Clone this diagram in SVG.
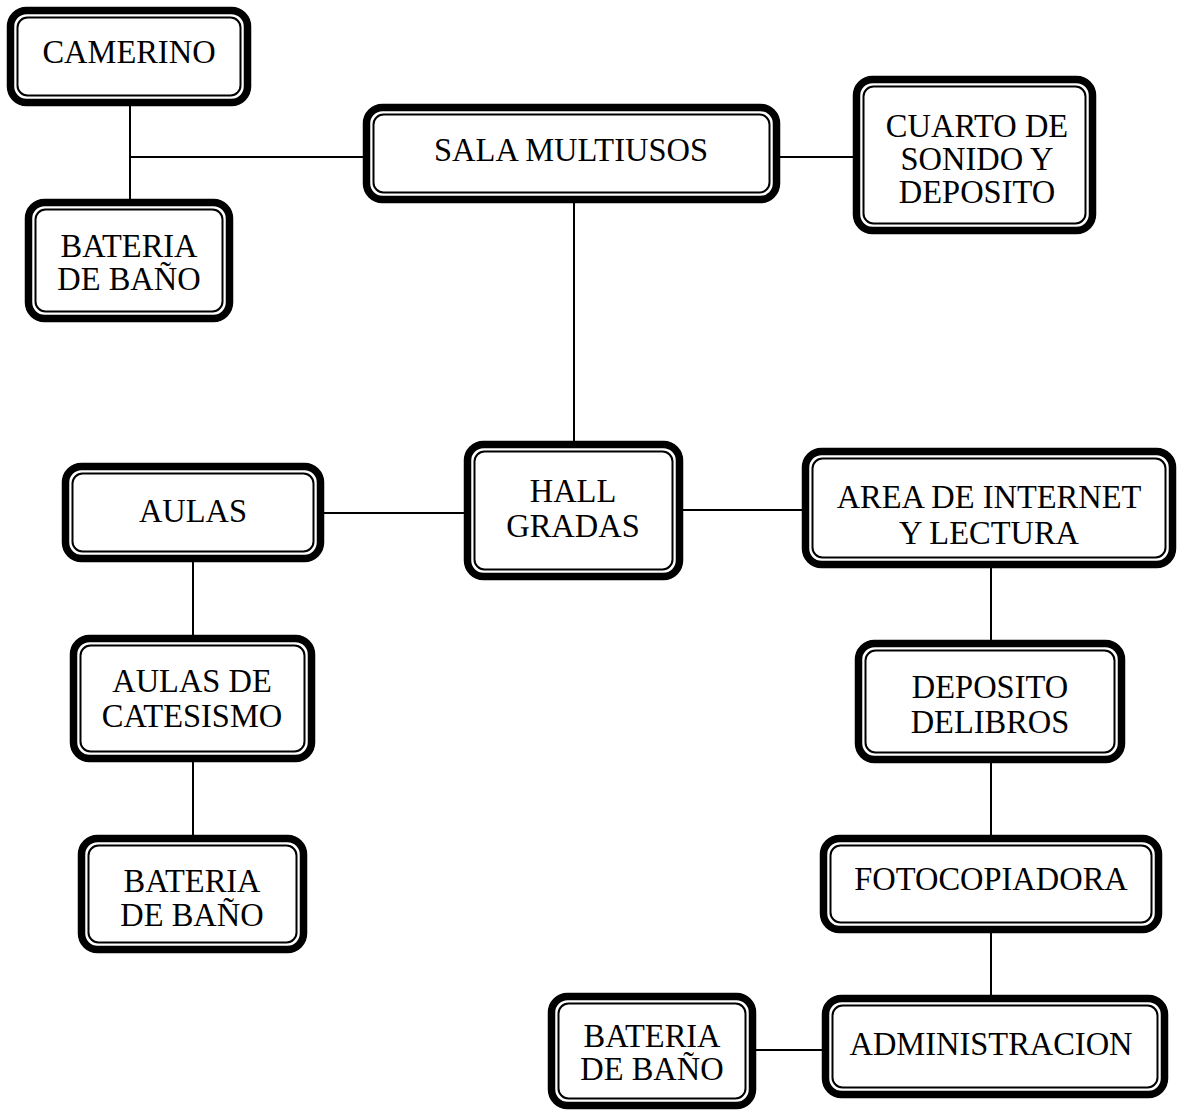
<svg xmlns="http://www.w3.org/2000/svg" width="1178" height="1112" viewBox="0 0 1178 1112">
<style>
.o{fill:#fff;stroke:#000;stroke-width:7.5}
.i{fill:none;stroke:#000;stroke-width:2}
.t{font-family:"Liberation Serif","Times New Roman",serif;font-size:34px;fill:#000;text-anchor:middle}
.c{stroke:#000;stroke-width:2;fill:none}
</style>
<rect width="1178" height="1112" fill="#fff"/>
<g id="connectors">
<line class="c" x1="130" y1="106" x2="130" y2="199"/>
<line class="c" x1="130" y1="157" x2="363" y2="157"/>
<line class="c" x1="780" y1="157" x2="853" y2="157"/>
<line class="c" x1="574" y1="203" x2="574" y2="441"/>
<line class="c" x1="324" y1="513" x2="464" y2="513"/>
<line class="c" x1="683" y1="510" x2="802" y2="510"/>
<line class="c" x1="193" y1="562" x2="193" y2="635"/>
<line class="c" x1="193" y1="762" x2="193" y2="835"/>
<line class="c" x1="991" y1="568" x2="991" y2="640"/>
<line class="c" x1="991" y1="763" x2="991" y2="835"/>
<line class="c" x1="991" y1="933" x2="991" y2="995"/>
<line class="c" x1="755" y1="1050" x2="822" y2="1050"/>
</g>
<g id="camerino">
<rect class="o" x="10.5" y="10.5" width="237" height="92" rx="16"/>
<rect class="i" x="17.5" y="17.5" width="223" height="78" rx="10"/>
<text class="t" transform="translate(129 0) scale(0.955 1)" x="0" y="63">CAMERINO</text>
</g>
<g id="sala-multiusos">
<rect class="o" x="366.5" y="107.5" width="410" height="92" rx="16"/>
<rect class="i" x="373.5" y="114.5" width="396" height="78" rx="10"/>
<text class="t" transform="translate(571 0) scale(0.955 1)" x="0" y="161">SALA MULTIUSOS</text>
</g>
<g id="cuarto-sonido">
<rect class="o" x="856.5" y="79.5" width="236" height="151" rx="16"/>
<rect class="i" x="863.5" y="86.5" width="222" height="137" rx="10"/>
<text class="t" transform="translate(977 0) scale(0.955 1)" x="0" y="137">CUARTO DE</text>
<text class="t" transform="translate(977 0) scale(0.955 1)" x="0" y="170">SONIDO Y</text>
<text class="t" transform="translate(977 0) scale(0.955 1)" x="0" y="203">DEPOSITO</text>
</g>
<g id="bateria-1">
<rect class="o" x="28.5" y="202.5" width="201" height="116" rx="16"/>
<rect class="i" x="35.5" y="209.5" width="187" height="102" rx="10"/>
<text class="t" transform="translate(129 0) scale(0.955 1)" x="0" y="257">BATERIA</text>
<text class="t" transform="translate(129 0) scale(0.955 1)" x="0" y="290">DE BAÑO</text>
</g>
<g id="hall-gradas">
<rect class="o" x="467.5" y="444.5" width="212" height="132" rx="16"/>
<rect class="i" x="474.5" y="451.5" width="198" height="118" rx="10"/>
<text class="t" transform="translate(573 0) scale(0.955 1)" x="0" y="502">HALL</text>
<text class="t" transform="translate(573 0) scale(0.955 1)" x="0" y="537">GRADAS</text>
</g>
<g id="aulas">
<rect class="o" x="65.5" y="466.5" width="255" height="92" rx="16"/>
<rect class="i" x="72.5" y="473.5" width="241" height="78" rx="10"/>
<text class="t" transform="translate(193 0) scale(0.955 1)" x="0" y="522">AULAS</text>
</g>
<g id="area-internet">
<rect class="o" x="805.5" y="451.5" width="367" height="113" rx="16"/>
<rect class="i" x="812.5" y="458.5" width="353" height="99" rx="10"/>
<text class="t" transform="translate(989 0) scale(0.955 1)" x="0" y="508">AREA DE INTERNET</text>
<text class="t" transform="translate(989 0) scale(0.955 1)" x="0" y="544">Y LECTURA</text>
</g>
<g id="aulas-catesismo">
<rect class="o" x="73.5" y="638.5" width="238" height="120" rx="16"/>
<rect class="i" x="80.5" y="645.5" width="224" height="106" rx="10"/>
<text class="t" transform="translate(192 0) scale(0.955 1)" x="0" y="692">AULAS DE</text>
<text class="t" transform="translate(192 0) scale(0.955 1)" x="0" y="727">CATESISMO</text>
</g>
<g id="deposito-libros">
<rect class="o" x="858.5" y="643.5" width="263" height="116" rx="16"/>
<rect class="i" x="865.5" y="650.5" width="249" height="102" rx="10"/>
<text class="t" transform="translate(990 0) scale(0.955 1)" x="0" y="698">DEPOSITO</text>
<text class="t" transform="translate(990 0) scale(0.955 1)" x="0" y="733">DELIBROS</text>
</g>
<g id="bateria-2">
<rect class="o" x="81.5" y="838.5" width="222" height="111" rx="16"/>
<rect class="i" x="88.5" y="845.5" width="208" height="97" rx="10"/>
<text class="t" transform="translate(192 0) scale(0.955 1)" x="0" y="892">BATERIA</text>
<text class="t" transform="translate(192 0) scale(0.955 1)" x="0" y="926">DE BAÑO</text>
</g>
<g id="fotocopiadora">
<rect class="o" x="823.5" y="838.5" width="335" height="91" rx="16"/>
<rect class="i" x="830.5" y="845.5" width="321" height="77" rx="10"/>
<text class="t" transform="translate(991 0) scale(0.955 1)" x="0" y="890">FOTOCOPIADORA</text>
</g>
<g id="administracion">
<rect class="o" x="825.5" y="998.5" width="339" height="96" rx="16"/>
<rect class="i" x="832.5" y="1005.5" width="325" height="82" rx="10"/>
<text class="t" transform="translate(991 0) scale(0.955 1)" x="0" y="1055">ADMINISTRACION</text>
</g>
<g id="bateria-3">
<rect class="o" x="551.5" y="996.5" width="201" height="109" rx="16"/>
<rect class="i" x="558.5" y="1003.5" width="187" height="95" rx="10"/>
<text class="t" transform="translate(652 0) scale(0.955 1)" x="0" y="1047">BATERIA</text>
<text class="t" transform="translate(652 0) scale(0.955 1)" x="0" y="1080">DE BAÑO</text>
</g>
</svg>
